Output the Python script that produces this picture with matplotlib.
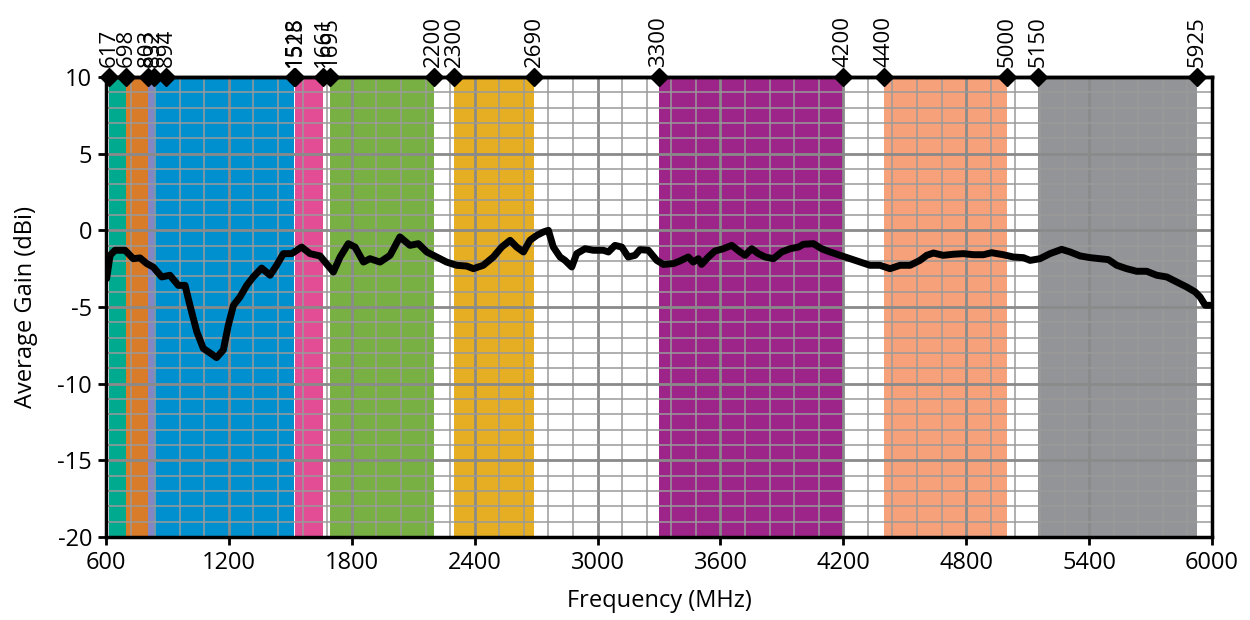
import matplotlib
matplotlib.use("Agg")
import matplotlib.pyplot as plt
from matplotlib.ticker import MultipleLocator

# band edges shown along the top (MHz)
edges = [617, 698, 803, 832, 894, 1518, 1525, 1661, 1695, 2200, 2300,
         2690, 3300, 4200, 4400, 5000, 5150, 5925]

# shaded frequency bands
band_lo = [617, 698, 803, 832, 1525, 1695, 2300, 3300, 4400, 5150]
band_hi = [698, 803, 832, 1518, 1661, 2200, 2690, 4200, 5000, 5925]
band_col = ['#00AA8E', '#D97C2A', '#8187C4', '#0090D0', '#E34D96',
            '#78B043', '#E6AF23', '#9D2589', '#F7A17B', '#929497']

# measured average gain
freq = [603, 620, 644, 693, 733, 766, 799, 831, 872, 912, 953, 986, 1010,
        1043, 1075, 1108, 1140, 1173, 1197, 1222, 1254, 1287, 1319, 1360,
        1401, 1433, 1466, 1507, 1555, 1596, 1645, 1710, 1743, 1783, 1816,
        1857, 1889, 1938, 1987, 2035, 2084, 2125, 2166, 2215, 2263, 2312,
        2361, 2394, 2442, 2491, 2532, 2573, 2605, 2638, 2670, 2703, 2735,
        2760, 2784, 2817, 2841, 2874, 2898, 2939, 2979, 3028, 3053, 3085,
        3118, 3150, 3183, 3207, 3248, 3289, 3321, 3370, 3402, 3443, 3467,
        3492, 3508, 3541, 3573, 3614, 3655, 3696, 3720, 3753, 3785, 3818,
        3859, 3899, 3940, 3981, 4005, 4054, 4094, 4135, 4184, 4233, 4281,
        4330, 4379, 4428, 4477, 4526, 4574, 4607, 4640, 4688, 4737, 4786,
        4835, 4884, 4924, 4981, 5030, 5079, 5112, 5160, 5209, 5266, 5307,
        5356, 5404, 5453, 5494, 5535, 5583, 5632, 5681, 5730, 5779, 5828,
        5877, 5918, 5942, 5967, 5991]
gain = [-3.15, -1.63, -1.3, -1.3, -1.85, -1.8, -2.17, -2.4, -3.04, -2.93,
        -3.59, -3.59, -4.9, -6.6, -7.7, -8.0, -8.3, -7.8, -6.2, -4.9,
        -4.35, -3.59, -3.04, -2.46, -2.93, -2.28, -1.52, -1.52, -1.09,
        -1.52, -1.67, -2.72, -1.74, -0.87, -1.09, -2.07, -1.85, -2.07,
        -1.63, -0.43, -0.98, -0.87, -1.41, -1.74, -2.07, -2.28, -2.33,
        -2.5, -2.28, -1.74, -1.09, -0.65, -1.09, -1.41, -0.65, -0.33,
        -0.11, 0.0, -1.09, -1.74, -1.96, -2.39, -1.52, -1.2, -1.3, -1.3,
        -1.41, -0.98, -1.09, -1.74, -1.63, -1.26, -1.3, -1.96, -2.22,
        -2.17, -2.0, -1.74, -2.07, -1.85, -2.22, -1.74, -1.35, -1.2,
        -0.98, -1.41, -1.63, -1.2, -1.52, -1.74, -1.85, -1.41, -1.2,
        -1.09, -0.91, -0.87, -1.2, -1.41, -1.63, -1.85, -2.07, -2.28,
        -2.28, -2.5, -2.28, -2.28, -1.96, -1.63, -1.48, -1.63, -1.56,
        -1.52, -1.59, -1.59, -1.46, -1.59, -1.74, -1.78, -1.96, -1.85,
        -1.52, -1.24, -1.41, -1.67, -1.78, -1.85, -1.91, -2.28, -2.5,
        -2.67, -2.67, -2.93, -3.04, -3.37, -3.7, -4.02, -4.35, -4.89,
        -4.89]

plt.rcParams['font.family'] = ['Open Sans', 'DejaVu Sans']
plt.rcParams['font.size'] = 17
plt.rcParams['axes.unicode_minus'] = False

fig = plt.figure(figsize=(12.5, 6.2), dpi=100)
ax = fig.add_axes([0.0848, 0.1339, 0.8848, 0.7419])

for lo, hi, c in zip(band_lo, band_hi, band_col):
    ax.axvspan(lo, hi, color=c, lw=0, zorder=1)

ax.set_xlim(600, 6000)
ax.set_ylim(-20, 10)
ax.xaxis.set_major_locator(MultipleLocator(600))
ax.xaxis.set_minor_locator(MultipleLocator(120))
ax.yaxis.set_major_locator(MultipleLocator(5))
ax.yaxis.set_minor_locator(MultipleLocator(1))
ax.grid(which='major', color='#8a8a8a', lw=2)
ax.grid(which='minor', color='#9a9a9a', lw=1.1)
ax.tick_params(which='minor', length=0)
ax.tick_params(which='major', length=6, width=2, direction='out',
               labelsize=17, pad=4)

ax.plot(freq, gain, color='black', lw=5, solid_joinstyle='round',
        solid_capstyle='round', zorder=3)

# diamonds marking band edges on the top line
ax.plot(edges, [10] * len(edges), 'D', color='black', ms=9,
        clip_on=False, zorder=5)

for s in ax.spines.values():
    s.set_linewidth(2.5)
    s.set_zorder(4)

ax.set_xlabel('Frequency (MHz)', labelpad=10)
ax.set_ylabel('Average Gain (dBi)', labelpad=14)

top = ax.twiny()
top.set_xlim(600, 6000)
top.set_xticks(edges)
top.set_xticklabels([str(e) for e in edges], rotation=90, fontsize=16)
top.tick_params(length=0, pad=7)
top.spines['top'].set_linewidth(2.5)

fig.savefig('out.png', dpi=100)
